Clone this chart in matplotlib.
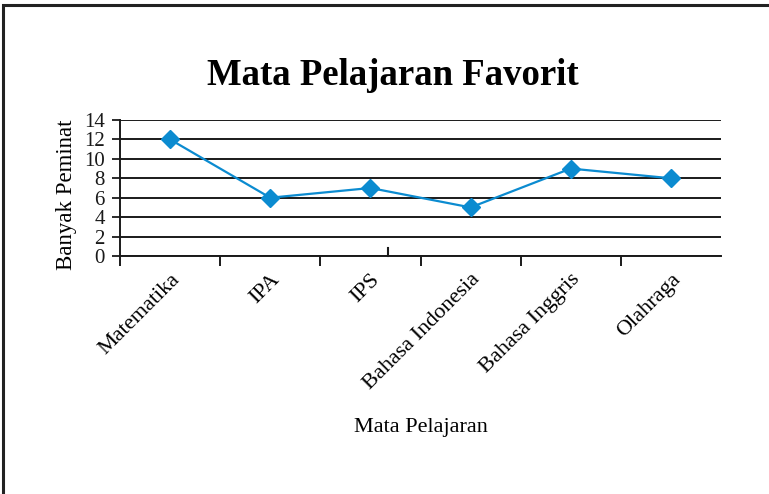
import matplotlib.pyplot as plt
from matplotlib.lines import Line2D
from matplotlib.patches import Rectangle

subjects = ["Matematika", "IPA", "IPS", "Bahasa Indonesia", "Bahasa Inggris", "Olahraga"]
peminat = [12, 6, 7, 5, 9, 8]
y_ticks = [0, 2, 4, 6, 8, 10, 12, 14]

plt.rcParams["font.family"] = ["Liberation Serif", "DejaVu Serif"]

fig = plt.figure(figsize=(7.69, 4.94), dpi=100)
ax = fig.add_axes([120 / 769, 1 - 256 / 494, 601 / 769, 136 / 494])

x = list(range(len(subjects)))
ax.plot(x, peminat, color="#0b8bd0", linewidth=1.6, marker="D", markersize=9,
        markeredgecolor="#0b8bd0", markerfacecolor="#0b8bd0", zorder=3)

ax.set_xlim(-0.5, len(subjects) - 0.5)
ax.set_ylim(0, 14)
ax.set_yticks(y_ticks)
ax.set_yticklabels([str(v) for v in y_ticks], fontsize=15)
ax.tick_params(axis="y", direction="out", length=6, width=1.3, pad=5, colors="#1a1a1a")
ax.grid(axis="y", color="#1a1a1a", linewidth=1.4)
ax.set_axisbelow(True)

# boundary ticks between categories, labels on the centres
ax.set_xticks([i - 0.5 for i in x])
ax.set_xticklabels([])
ax.tick_params(axis="x", which="major", direction="out", length=7, width=1.4, colors="#1a1a1a")
ax.set_xticks(x, minor=True)
ax.set_xticklabels(subjects, minor=True, rotation=45, ha="right", va="top",
                   rotation_mode="anchor", fontsize=16)
ax.tick_params(axis="x", which="minor", length=0, pad=10)

for side in ["top", "right"]:
    ax.spines[side].set_visible(False)
ax.spines["left"].set_linewidth(1.4)
ax.spines["bottom"].set_linewidth(1.4)
ax.spines["left"].set_color("#1a1a1a")
ax.spines["bottom"].set_color("#1a1a1a")

# small upward tick above the axis
ax.add_line(Line2D([2.18, 2.18], [0, 0.8], color="#1a1a1a", linewidth=1.5, clip_on=False))

ax.set_ylabel("Banyak Peminat", fontsize=16.5)
ax.yaxis.set_label_coords(-0.072, 0.45)
fig.text(421 / 769, 1 - 427 / 494, "Mata Pelajaran", fontsize=16, ha="center", va="center")
fig.text(393 / 769, 1 - 75 / 494, "Mata Pelajaran Favorit", fontsize=26.5, fontweight="bold",
         ha="center", va="center")

# outer frame
fig.patches.append(Rectangle((3 / 769, -0.1), 1.2, 1 - 5 / 494 + 0.1, transform=fig.transFigure,
                             fill=False, edgecolor="#222222", linewidth=2.2))

fig.savefig("out.png", dpi=100)
